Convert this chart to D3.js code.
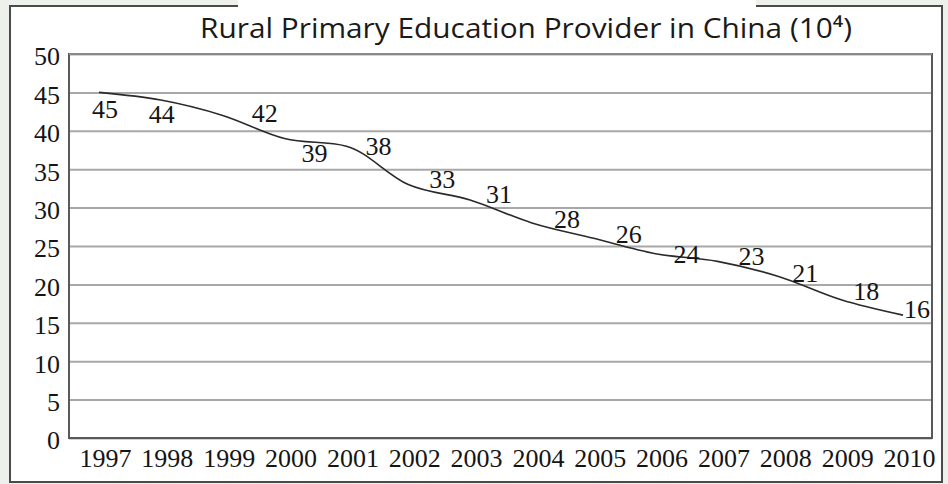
<!DOCTYPE html>
<html>
<head>
<meta charset="utf-8">
<script src="https://cdn.jsdelivr.net/npm/d3@7"></script>
<style>
  html, body { margin: 0; padding: 0; background: #eef0ec; }
  svg { display: block; }
</style>
</head>
<body>
<svg id="chart" width="948" height="484"></svg>
<script>
// ---- data ----
const years = ["1997","1998","1999","2000","2001","2002","2003","2004","2005","2006","2007","2008","2009","2010"];
const providers = [45, 44, 42, 39, 38, 33, 31, 28, 26, 24, 23, 21, 18, 16];
const yTicks = [0, 5, 10, 15, 20, 25, 30, 35, 40, 45, 50];
const title = "Rural Primary Education Provider in China (10\u2074)";

// ---- layout (label offsets relative to each point) ----
const labelOffsets = [[6,26],[1,23],[42,7],[30,24],[32,9],[34,3],[29,3],[35,5],[35,5],[31,9],[34,4],[26,5],[25,0],[14,3]];

const W = 948, H = 484;
const plot = {left: 69, right: 932, top: 54, bottom: 438};
const serif = "'Liberation Serif','Times New Roman',serif";
const svg = d3.select("#chart");

svg.append("rect").attr("x",0).attr("y",0).attr("width",W).attr("height",H).attr("fill","#eef0ec");
// frame
svg.append("rect").attr("x",10).attr("y",6).attr("width",932).attr("height",476)
  .attr("fill","#ffffff").attr("stroke","#4a4a4a").attr("stroke-width",2);
// white patch behind title covering the frame top
svg.append("rect").attr("x",238).attr("y",0).attr("width",518).attr("height",16).attr("fill","#ffffff");

// title
svg.append("text").attr("x",526).attr("y",38).attr("text-anchor","middle")
  .attr("font-family","'Open Sans', sans-serif").attr("font-size",27).attr("fill","#1a1a1a")
  .attr("textLength",652).attr("lengthAdjust","spacingAndGlyphs")
  .text(title);

const x = d3.scalePoint().domain(years).range([99, 903]);
const y = d3.scaleLinear().domain([0, 50]).range([plot.bottom, plot.top]);

// gridlines via axis
const gy = svg.append("g").attr("transform", `translate(${plot.left},0)`)
  .call(d3.axisLeft(y).tickValues(yTicks).tickSize(-(plot.right - plot.left)).tickFormat(d => d));
gy.select(".domain").remove();
gy.selectAll(".tick line").attr("stroke","#a8a8a8").attr("stroke-width",2);
gy.selectAll(".tick text").attr("x",-9).attr("dy","0.42em")
  .attr("font-family",serif).attr("font-size",26).attr("fill","#151515");

// plot border
svg.append("rect").attr("x",plot.left).attr("y",plot.top)
  .attr("width",plot.right-plot.left).attr("height",plot.bottom-plot.top)
  .attr("fill","none").attr("stroke","#5a5a5a").attr("stroke-width",2);
svg.append("line").attr("x1",plot.left).attr("x2",plot.right).attr("y1",plot.top).attr("y2",plot.top)
  .attr("stroke","#8a8a8a").attr("stroke-width",2);

// x axis
const gx = svg.append("g").attr("transform", `translate(0,${plot.bottom})`)
  .call(d3.axisBottom(x).tickSize(0));
gx.select(".domain").remove();
gx.selectAll(".tick text").attr("dx",6).attr("y",29).attr("dy",0)
  .attr("font-family",serif).attr("font-size",26).attr("fill","#151515");

// line
const pts = years.map((yr, i) => ({yr, v: providers[i], i}));
svg.append("path").datum(pts)
  .attr("fill","none").attr("stroke","#2a2a2a").attr("stroke-width",1.6)
  .attr("d", d3.line().x(d => x(d.yr)).y(d => y(d.v)).curve(d3.curveMonotoneX));

// data labels
svg.append("g").selectAll("text").data(pts).join("text")
  .attr("x", d => x(d.yr) + labelOffsets[d.i][0])
  .attr("y", d => y(d.v) + labelOffsets[d.i][1])
  .attr("text-anchor","middle")
  .attr("font-family",serif).attr("font-size",26).attr("fill","#151515")
  .text(d => d.v);
</script>
</body>
</html>
